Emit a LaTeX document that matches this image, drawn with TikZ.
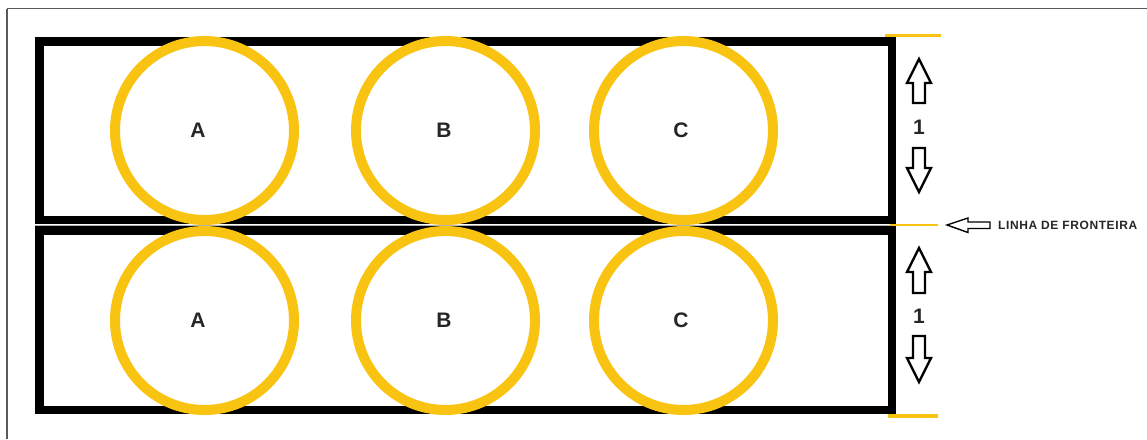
\documentclass[tikz,border=0pt]{standalone}
\usepackage{fontspec}
\setmainfont{Liberation Sans}
\definecolor{gold}{RGB}{249,195,18}
\definecolor{framegray}{RGB}{90,90,90}
\begin{document}
\begin{tikzpicture}[x=1pt,y=-1pt,
  box/.style={draw=black,line width=8.5},
  ring/.style={circle,draw=gold,line width=10,minimum size=179,inner sep=0pt},
  letter/.style={font=\fontsize{21}{24}\selectfont\bfseries,text=black!85,inner sep=0pt},
  hollow/.style={draw=black,line width=2.4,fill=white,line join=miter},
  goldline/.style={draw=gold}]
\useasboundingbox (0,0) rectangle (1147,439);
% outer frame
\draw[framegray,line width=1.5] (7,8.5) -- (1147,8.5);
\draw[framegray,line width=1.2] (7,8.5) -- (7,439);
% rectangles
\draw[box] (39.25,41.25) rectangle (891.75,219.75);
\draw[box] (39.25,230.25) rectangle (891.75,409.75);
\draw[gray!60,line width=0.8] (35,225) -- (890,225);
% circles
\foreach \n/\x in {A/204.5,B/445.5,C/683.5}{
  \node[ring] (top\n) at (\x,130.5) {};
  \node[ring] (bot\n) at (\x,320.5) {};
}
\node[letter] (tA) at (198,130) {A};
\node[letter] (tB) at (444,130) {B};
\node[letter] (tC) at (681,130) {C};
\node[letter] (bA) at (198,320) {A};
\node[letter] (bB) at (444,320) {B};
\node[letter] (bC) at (681,320) {C};
% gold marker lines
\draw[goldline,line width=3] (885,35) -- (941,35);
\draw[goldline,line width=1.2] (890,225) -- (938,225);
\draw[goldline,line width=3.5] (888,416) -- (938,416);
% hollow arrows (top)
\draw[hollow] (919,59) -- (931,83) -- (925,83) -- (925,103) -- (913,103) -- (913,83) -- (907,83) -- cycle;
\node[letter] (one1) at (919,127) {1};
\draw[hollow] (919,192) -- (931,168) -- (925,168) -- (925,148) -- (913,148) -- (913,168) -- (907,168) -- cycle;
% hollow arrows (bottom)
\draw[hollow] (919,248) -- (931,272) -- (925,272) -- (925,293) -- (913,293) -- (913,272) -- (907,272) -- cycle;
\node[letter] (one2) at (919,316) {1};
\draw[hollow] (919,382) -- (931,358) -- (925,358) -- (925,336) -- (913,336) -- (913,358) -- (907,358) -- cycle;
% boundary arrow
\draw[hollow,line width=1.4] (947,225) -- (968,218) -- (968,222) -- (990,222) -- (990,228.5) -- (968,228.5) -- (968,232.5) -- cycle;
\node[anchor=west,inner sep=0pt,text=black!85,font=\fontsize{12}{14}\selectfont\bfseries\addfontfeature{LetterSpace=5}] (lbl) at (998,225) {LINHA DE FRONTEIRA};
\end{tikzpicture}
\end{document}
